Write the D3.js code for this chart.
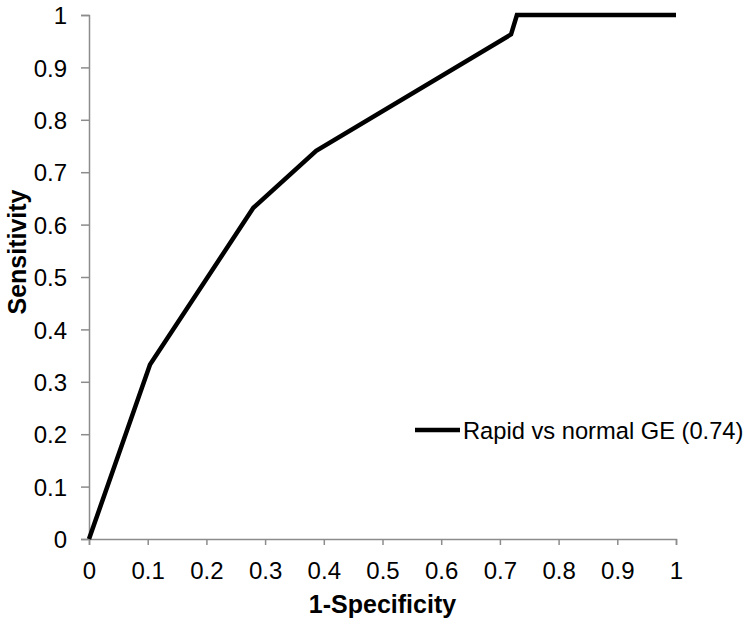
<!DOCTYPE html>
<html>
<head>
<meta charset="utf-8">
<script src="https://cdn.jsdelivr.net/npm/d3@7"></script>
<style>
  body { margin: 0; background: #fff; }
  svg { font-family: "Liberation Sans", Arial, sans-serif; }
</style>
</head>
<body>
<svg id="chart" width="750" height="620"></svg>
<script>
// ROC curve points
var fpr = [0, 0.104, 0.28, 0.387, 0.719, 0.729, 1];
var tpr = [0, 0.333, 0.632, 0.741, 0.963, 1, 1];
var tickValues = [0, 0.1, 0.2, 0.3, 0.4, 0.5, 0.6, 0.7, 0.8, 0.9, 1];
var seriesName = 'Rapid vs normal GE (0.74)';

var margin = { left: 89, right: 74, top: 15, bottom: 81 };
var width = 750, height = 620;

var svg = d3.select('#chart');

var x = d3.scaleLinear().domain([0, 1]).range([margin.left, width - margin.right]);
var y = d3.scaleLinear().domain([0, 1]).range([height - margin.bottom, margin.top]);

var fmt = function(d) { return d === 0 || d === 1 ? String(d) : d3.format('.1f')(d); };

// x axis
var xAxis = svg.append('g')
  .attr('transform', 'translate(0,' + y(0) + ')')
  .call(d3.axisBottom(x).tickValues(tickValues).tickFormat(fmt).tickSize(6).tickSizeOuter(6).tickPadding(17));

// y axis
var yAxis = svg.append('g')
  .attr('transform', 'translate(' + x(0) + ',0)')
  .call(d3.axisLeft(y).tickValues(tickValues).tickFormat(fmt).tickSize(8).tickSizeOuter(8).tickPadding(14));

[xAxis, yAxis].forEach(function(a) {
  a.select('.domain').attr('stroke', '#8c8c8c').attr('stroke-width', 1.5);
  a.selectAll('.tick line').attr('stroke', '#8c8c8c').attr('stroke-width', 1.5);
  a.selectAll('.tick text').attr('fill', '#000').attr('font-size', '24px');
});
yAxis.selectAll('.tick text').attr('dy', '0.36em');

// line
var line = d3.line()
  .x(function(d, i) { return x(fpr[i]); })
  .y(function(d, i) { return y(tpr[i]); });

svg.append('path')
  .datum(tpr)
  .attr('fill', 'none')
  .attr('stroke', '#000')
  .attr('stroke-width', 4.5)
  .attr('stroke-linejoin', 'miter')
  .attr('d', line);

// axis titles
svg.append('text')
  .attr('x', x(0.5))
  .attr('y', 613)
  .attr('text-anchor', 'middle')
  .attr('font-size', '25px')
  .attr('font-weight', 'bold')
  .text('1-Specificity');

svg.append('text')
  .attr('transform', 'translate(26,252) rotate(-90)')
  .attr('text-anchor', 'middle')
  .attr('font-size', '25px')
  .attr('font-weight', 'bold')
  .text('Sensitivity');

// legend
var legend = svg.append('g').attr('transform', 'translate(415,430)');
legend.append('line')
  .attr('x1', 0).attr('x2', 45)
  .attr('stroke', '#000').attr('stroke-width', 4.5);
legend.append('text')
  .attr('x', 48)
  .attr('dy', '0.36em')
  .attr('font-size', '23.7px')
  .text(seriesName);
</script>
</body>
</html>
